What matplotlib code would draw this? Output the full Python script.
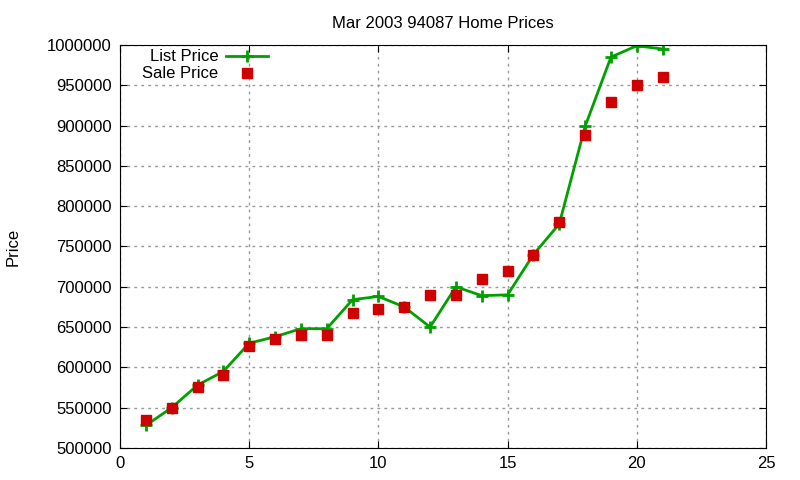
import matplotlib.pyplot as plt
from matplotlib.ticker import ScalarFormatter

# Data
months = list(range(1, 22))
list_price = [528000, 550000, 578000, 595000, 630000, 638000, 648000, 648000,
              684000, 688000, 675000, 650000, 700000, 689000, 690000, 740000,
              778000, 899000, 985000, 999000, 995000]
sale_price = [535000, 550000, 576000, 590000, 626000, 635000, 640000, 640000,
              667000, 673000, 675000, 690000, 690000, 710000, 720000, 739000,
              780000, 888000, 929000, 950000, 960000]

plt.rcParams['font.family'] = ['Liberation Sans', 'DejaVu Sans']

fig = plt.figure(figsize=(8, 4.8), dpi=100)
ax = fig.add_axes([0.15, 0.0667, 0.8075, 0.8396])

ax.plot(months, list_price, color='#00a000', lw=2, marker='+', ms=9, mew=2,
        label='List Price')
ax.plot(months, sale_price, ls='none', color='#d00000', marker='s', ms=7,
        label='Sale Price')

ax.set_xlim(0, 25)
ax.set_ylim(500000, 1000000)
ax.set_xticks(range(0, 26, 5))
ax.set_yticks(range(500000, 1000001, 50000))
fmt = ScalarFormatter(useOffset=False)
fmt.set_scientific(False)
ax.yaxis.set_major_formatter(fmt)
ax.tick_params(direction='in', top=True, right=True, labelsize=12, length=5, pad=6)
ax.grid(True, color='#999999', ls=(0, (2, 3)), lw=1)

ax.set_title('Mar 2003 94087 Home Prices', fontsize=12, pad=12)
ax.set_ylabel('Price', fontsize=12, labelpad=19)

ax.legend(loc='upper left', bbox_to_anchor=(0.014, 1.022), frameon=False,
          markerfirst=False, fontsize=12, handlelength=2.5,
          labelspacing=0.12, borderpad=0.3, handletextpad=0.45)

fig.savefig('out.png')
